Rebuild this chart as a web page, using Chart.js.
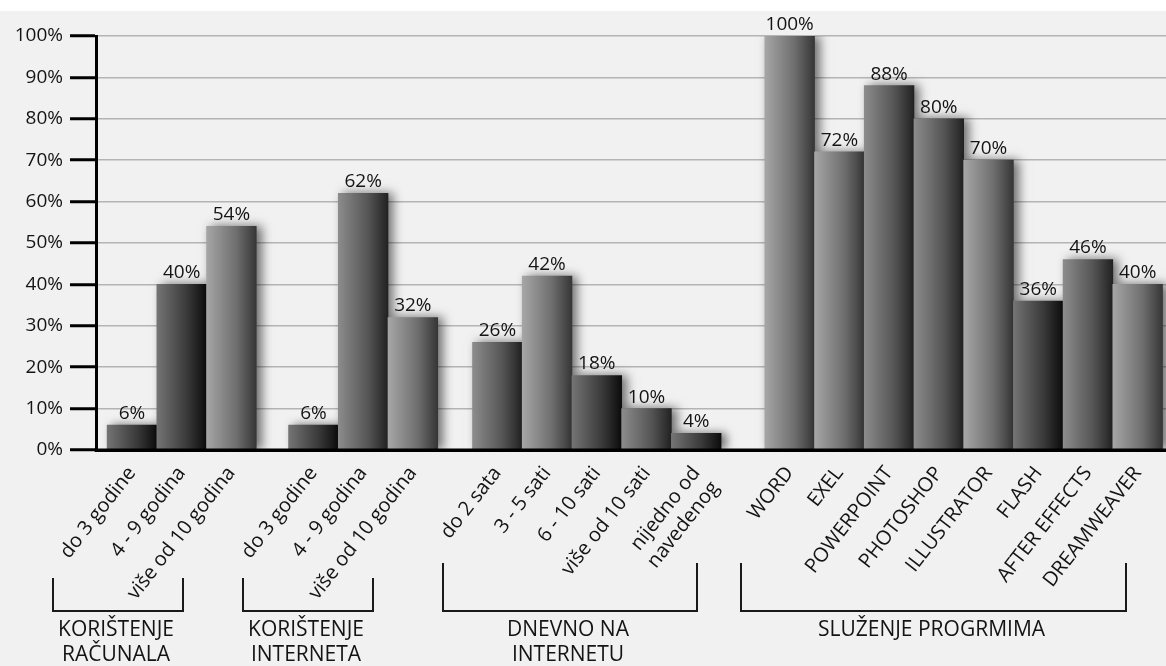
<!DOCTYPE html>
<html>
<head>
<meta charset="utf-8">
<script src="https://cdn.jsdelivr.net/npm/chart.js@4.4.0/dist/chart.umd.min.js"></script>
<style>
  html, body { margin: 0; padding: 0; background: #f1f1f1; }
  #wrap { width: 1166px; height: 666px; position: relative; }
</style>
</head>
<body>
<div id="wrap"><canvas id="myChart"></canvas></div>
<script>
// data
const groupNames = [
  ['KORIŠTENJE', 'RAČUNALA'],
  ['KORIŠTENJE', 'INTERNETA'],
  ['DNEVNO NA', 'INTERNETU'],
  ['SLUŽENJE PROGRMIMA']
];
const groupLabels = [
  ['do 3 godine', '4 - 9 godina', 'više od 10 godina'],
  ['do 3 godine', '4 - 9 godina', 'više od 10 godina'],
  ['do 2 sata', '3 - 5 sati', '6 - 10 sati', 'više od 10 sati', ['nijedno od', 'navedenog']],
  ['WORD', 'EXEL', 'POWERPOINT', 'PHOTOSHOP', 'ILLUSTRATOR', 'FLASH', 'AFTER EFFECTS', 'DREAMWEAVER']
];
const groupValues = [
  [6, 40, 54],
  [6, 62, 32],
  [26, 42, 18, 10, 4],
  [100, 72, 88, 80, 70, 36, 46, 40]
];
const yTicks = [0, 10, 20, 30, 40, 50, 60, 70, 80, 90, 100];

// styling / layout
const groupGaps = [0.65, 0.7, 0.88];
const shades = [
  ['D', 'D', 'L'],
  ['D', 'M', 'L'],
  ['M', 'L', 'D', 'M', 'D'],
  ['L', 'L', 'M', 'M', 'L', 'D', 'M', 'L']
];
const palette = {
  L: ['#a6a6a6', '#6e6e6e', '#363636'],
  M: ['#8c8c8c', '#555555', '#222222'],
  D: ['#747474', '#3a3a3a', '#0c0c0c']
};
const bandColors = ['#dfdfdf', '#f5f5f5', '#e3e3e3', '#f3f3f3'];
const brackets = [[53, 183, 578], [243, 373, 578], [443, 697, 563], [741, 1126, 563]];
const FONT = '"Open Sans", sans-serif';

// flatten groups, placing each group after a small gap
const xPos = [], values = [], labels = [], shadeList = [], groupRange = [];
let pos = 0;
groupValues.forEach((vals, g) => {
  const start = pos;
  vals.forEach((v, i) => {
    xPos.push(pos);
    values.push(v);
    labels.push(groupLabels[g][i]);
    shadeList.push(shades[g][i]);
    pos += 1;
  });
  groupRange.push([start, pos - 1]);
  if (g < groupGaps.length) pos += groupGaps[g];
});

function barGradient(c) {
  const chart = c.chart;
  const xs = chart.scales.x;
  const p = palette[shadeList[c.dataIndex]] || palette.M;
  if (!xs || c.type !== 'data') return p[1];
  const px = xs.getPixelForValue(xPos[c.dataIndex]);
  const half = (xs.getPixelForValue(1) - xs.getPixelForValue(0)) / 2;
  if (!isFinite(px) || !isFinite(half)) return p[1];
  const g = chart.ctx.createLinearGradient(px - half, 0, px + half, 0);
  g.addColorStop(0, p[0]);
  g.addColorStop(0.6, p[1]);
  g.addColorStop(1, p[2]);
  return g;
}

const decor = {
  id: 'decor',
  beforeDraw(chart) {
    const { ctx, chartArea: a, scales: { x } } = chart;
    ctx.save();
    ctx.fillStyle = '#ffffff';
    ctx.fillRect(0, 0, chart.width, 11);
    ctx.fillStyle = '#f1f1f1';
    ctx.fillRect(0, 11, chart.width, chart.height - 11);
    // shaded band behind each group
    groupRange.forEach((r, g) => {
      const left = g === 0 ? a.left : x.getPixelForValue((xPos[r[0]] + xPos[groupRange[g - 1][1]]) / 2);
      const right = g === groupRange.length - 1 ? a.right :
        x.getPixelForValue((xPos[r[1]] + xPos[groupRange[g + 1][0]]) / 2);
      ctx.fillStyle = bandColors[g];
      ctx.fillRect(left, a.top, right - left, a.bottom - a.top);
    });
    ctx.restore();
  },
  beforeDatasetsDraw(chart) {
    const ctx = chart.ctx;
    ctx.save();
    ctx.shadowColor = 'rgba(0,0,0,0.55)';
    ctx.shadowBlur = 10;
    ctx.shadowOffsetX = 5;
    ctx.shadowOffsetY = 0;
  },
  afterDatasetsDraw(chart) {
    const { ctx, chartArea: a } = chart;
    ctx.restore();
    ctx.save();
    // axis line on top of bar bases
    ctx.strokeStyle = '#000';
    ctx.lineWidth = 3;
    ctx.beginPath();
    ctx.moveTo(a.left - 1.5, a.bottom);
    ctx.lineTo(a.right, a.bottom);
    ctx.stroke();
    // value labels
    ctx.fillStyle = '#141414';
    ctx.font = '19px ' + FONT;
    ctx.textAlign = 'center';
    ctx.textBaseline = 'bottom';
    chart.getDatasetMeta(0).data.forEach((bar, i) => {
      ctx.fillText(values[i] + '%', bar.x, bar.y - 2);
    });
    ctx.restore();
  },
  afterDraw(chart) {
    const ctx = chart.ctx;
    ctx.save();
    ctx.strokeStyle = '#1a1a1a';
    ctx.lineWidth = 2;
    ctx.fillStyle = '#141414';
    ctx.font = '21px ' + FONT;
    ctx.textAlign = 'center';
    ctx.textBaseline = 'middle';
    brackets.forEach((b, g) => {
      const [l, r, top] = b;
      const bottom = 611;
      ctx.beginPath();
      ctx.moveTo(l, top);
      ctx.lineTo(l, bottom);
      ctx.lineTo(r, bottom);
      ctx.lineTo(r, top);
      ctx.stroke();
      const cx = (l + r) / 2 - 2;
      groupNames[g].forEach((line, k) => {
        ctx.fillText(line, cx, 630 + k * 25);
      });
    });
    ctx.restore();
  }
};

const ctx = document.getElementById('myChart');

new Chart(ctx, {
  type: 'bar',
  data: {
    datasets: [{
      data: xPos.map((x, i) => ({ x: x, y: values[i] })),
      backgroundColor: barGradient,
      borderWidth: 0,
      barPercentage: 1,
      categoryPercentage: 1
    }]
  },
  options: {
    responsive: true,
    maintainAspectRatio: false,
    animation: false,
    devicePixelRatio: 1,
    layout: { padding: { top: 36, right: 0, left: 0, bottom: 0 } },
    plugins: { legend: { display: false }, tooltip: { enabled: false } },
    scales: {
      x: {
        type: 'linear',
        min: -0.724,
        max: 20.8,
        offset: false,
        afterBuildTicks: axis => { axis.ticks = xPos.map(v => ({ value: v })); },
        afterFit: axis => { axis.height = 216; axis.paddingLeft = 0; axis.paddingRight = 0; },
        grid: { display: false },
        border: { display: true, color: '#000', width: 3 },
        ticks: {
          autoSkip: false,
          maxRotation: 52,
          minRotation: 52,
          padding: 4,
          color: '#141414',
          font: { family: FONT, size: 20 },
          callback: (v, i) => labels[i]
        }
      },
      y: {
        min: 0,
        max: 100,
        afterBuildTicks: axis => { axis.ticks = yTicks.map(v => ({ value: v })); },
        afterFit: axis => { axis.width = 96; },
        grid: {
          color: '#b4b4b4',
          lineWidth: 1.5,
          tickColor: '#000',
          tickWidth: 3,
          tickLength: 26
        },
        border: { display: true, color: '#000', width: 3 },
        ticks: {
          padding: 7,
          color: '#141414',
          font: { family: FONT, size: 19 },
          callback: v => v + '%'
        }
      }
    }
  },
  plugins: [decor]
});
</script>
</body>
</html>
